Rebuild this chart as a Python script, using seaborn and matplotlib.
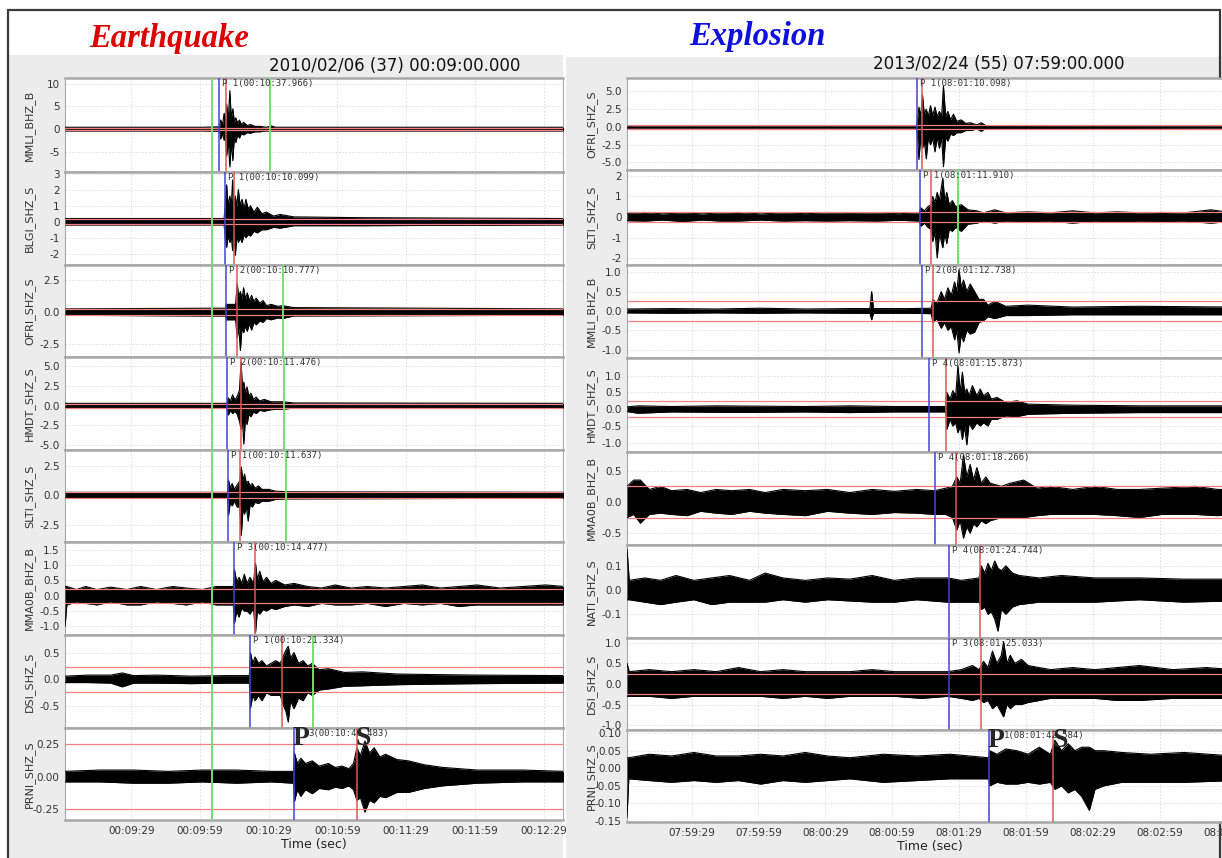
import numpy as np
import pandas as pd
import matplotlib.pyplot as plt
import seaborn as sns
from matplotlib.patches import Rectangle
from matplotlib.lines import Line2D

W, H = 1222, 858

# ---------------- values ----------------
# Earthquake panel (time in s after 00:09:00)
eq_stations = ['MMLI_BHZ_B', 'BLGI_SHZ_S', 'OFRI_SHZ_S', 'HMDT_SHZ_S',
               'SLTI_SHZ_S', 'MMA0B_BHZ_B', 'DSI_SHZ_S', 'PRNI_SHZ_S']
eq_xticks = [29, 59, 89, 119, 149, 179, 209]
eq_xtick_labels = ['00:09:29', '00:09:59', '00:10:29', '00:10:59',
                   '00:11:29', '00:11:59', '00:12:29']
eq_ylims = [(-9.5, 11.3), (-2.7, 3.1), (-3.5, 3.67), (-5.64, 6.2),
            (-3.96, 3.84), (-1.28, 1.75), (-0.91, 0.83), (-0.33, 0.37)]
eq_yticks = [[10, 5, 0, -5], [3, 2, 1, 0, -1, -2], [2.5, 0, -2.5],
             [5, 2.5, 0, -2.5, -5], [2.5, 0, -2.5],
             [1.5, 1, 0.5, 0, -0.5, -1], [0.5, 0, -0.5], [0.25, 0, -0.25]]
eq_ytick_labels = [['10', '5', '0', '-5'], ['3', '2', '1', '0', '-1', '-2'],
                   ['2.5', '0.0', '-2.5'], ['5.0', '2.5', '0.0', '-2.5', '-5.0'],
                   ['2.5', '0.0', '-2.5'],
                   ['1.5', '1.0', '0.5', '0.0', '-0.5', '-1.0'],
                   ['0.5', '0.0', '-0.5'], ['0.25', '0.00', '-0.25']]
eq_blue = [67.4, 69.9, 70.3, 70.9, 71.0, 73.8, 80.8, 100.0]
eq_red = [70.2, 73.8, 75.0, 76.7, 76.4, 83.1, 94.6, 127.5]
eq_green_first = 64.0
eq_green = [89.5, None, 95.0, 95.8, 96.5, None, 108.2, None]
eq_thresh = [0.25, 0.15, 0.25, 0.25, 0.25, 0.23, 0.24, 0.25]
eq_pick_labels = ['P 1(00:10:37.966)', 'P 1(00:10:10.099)', 'P 2(00:10:10.777)',
                  'P 2(00:10:11.476)', 'P 1(00:10:11.637)', 'P 3(00:10:14.477)',
                  'P 1(00:10:21.334)', '3(00:10:40.483)']

# amplitude envelopes (time, upper, lower)
eq_env_mmli = [(0, .4, -.4), (30, .4, -.4), (60, .4, -.4), (67.5, .5, -.5),
               (68, 2.0, -2.2), (68.8, 1.0, -1.0), (69.5, 3.5, -2.5), (70.1, 1.5, -1.5),
               (70.6, 5.5, -6), (71.3, 2.0, -2.5), (72, 8.5, -8.4), (72.6, 2.5, -3.0),
               (73.3, 4.5, -7), (74, 1.5, -1.5), (74.6, 2.5, -3.0), (75.4, 1.3, -1.2),
               (76.2, 2, -2), (77, 1.0, -1.0), (78, 1.5, -1.3), (79.5, .8, -.8),
               (81, 1.0, -.9), (83, .6, -.6), (85, .6, -.6), (88, .4, -.4),
               (90, .7, -.4), (92, .4, -.4), (218, .4, -.4)]
eq_env_blgi = [(0, .2, -.2), (69.5, .2, -.2), (70, 1.2, -1.0), (70.6, 2.3, -1.6),
               (71.2, 1.0, -.9), (72, 1.6, -1.3), (72.6, .9, -.9), (73.2, 2.6, -1.8),
               (73.8, 1.0, -1.0), (74.4, 1.6, -2.1), (75, .9, -.9), (75.7, 2.0, -1.3),
               (76.5, 1.0, -1.0), (77.3, 1.4, -1.3), (78.2, .8, -.8), (79, 1.4, -1.0),
               (80, .8, -.8), (81, 1.0, -.9), (82.5, .6, -.6), (84, .9, -.7),
               (86, .5, -.5), (88, .6, -.5), (91, .35, -.35), (94, .45, -.4),
               (100, .3, -.25), (130, .25, -.25), (218, .2, -.2)]
eq_env_ofri = [(0, .25, -.25), (60, .3, -.3), (70, .3, -.3), (70.5, .6, -.6),
               (74.5, .6, -.6), (75.2, 2.2, -2.0), (75.9, 1.2, -1.2), (76.6, 1.6, -3.0),
               (77.3, 1.0, -1.2), (78, 1.9, -1.6), (78.8, 1.0, -1.1), (79.6, 1.5, -1.5),
               (80.5, .9, -.9), (81.5, 1.3, -1.4), (82.5, .8, -.8), (83.5, 1.1, -1.0),
               (85, .7, -.7), (86.5, .9, -.8), (88, .5, -.5), (90, .6, -.6),
               (93, .45, -.45), (95, .5, -.5), (100, .35, -.3), (218, .25, -.25)]
eq_env_hmdt = [(0, .3, -.3), (70.8, .3, -.3), (71.3, 1.0, -1.2), (72.3, .6, -.6),
               (73.2, 1.4, -1.0), (74.2, .7, -.7), (75.2, 1.2, -1.1), (76.2, 2, -2),
               (76.9, 5.6, -3), (77.5, 2.2, -2.0), (78.1, 3, -4.9), (78.8, 1.6, -1.6),
               (79.5, 2.4, -2.4), (80.3, 1.2, -1.1), (81.2, 1.6, -1.4), (82.3, .8, -.8),
               (83.5, 1.1, -1.0), (85, .6, -.6), (87, .8, -.7), (90, .5, -.5),
               (95, .5, -.45), (100, .35, -.3), (218, .3, -.3)]
eq_env_slti = [(0, .25, -.25), (71, .25, -.25), (71.4, 1.3, -1.7), (72.2, .6, -.6),
               (73, 1.0, -.9), (74, .5, -.5), (75.2, .9, -1.0), (76.3, 1.2, -1.0),
               (77, 2.4, -3.4), (77.7, 1.2, -1.2), (78.4, 1.8, -1.6), (79.2, 1.0, -1.0),
               (80, 1.2, -2.2), (80.8, .8, -.8), (81.8, 1.0, -1.0), (83, .6, -.6),
               (84.5, .8, -.7), (86, .5, -.5), (89, .5, -.5), (92, .35, -.35),
               (97, .3, -.3), (218, .25, -.25)]
eq_env_mma0b = [(0, .3, -1.0), (0.8, .3, -.3), (5, .2, -.2), (9, .3, -.25),
                (14, .2, -.3), (20, .28, -.2), (27, .2, -.3), (33, .3, -.3),
                (40, .2, -.2), (47, .3, -.25), (53, .25, -.3), (60, .2, -.2),
                (66, .3, -.3), (73.5, .3, -.3), (74, .85, -.9), (75, .45, -.5),
                (76, .6, -.7), (77.2, .4, -.4), (78.3, .7, -.5), (79.5, .4, -.5),
                (80.8, .6, -.6), (82.3, .4, -.4), (83.2, 1.06, -1.2), (84, .5, -.5),
                (85, .8, -.6), (86.5, .45, -.45), (88, .6, -.5), (90, .4, -.4),
                (92, .5, -.45), (96, .35, -.35), (100, .4, -.3), (106, .3, -.35),
                (112, .25, -.25), (118, .35, -.3), (125, .25, -.3), (132, .3, -.25),
                (140, .25, -.35), (148, .3, -.25), (156, .35, -.3), (164, .25, -.25),
                (172, .3, -.35), (180, .35, -.3), (190, .25, -.3), (200, .3, -.3),
                (210, .35, -.3), (218, .3, -.3)]
eq_env_dsi = [(0, .06, -.06), (10, .08, -.06), (20, .08, -.07), (25, .12, -.14),
              (30, .07, -.07), (40, .08, -.07), (55, .06, -.08), (70, .07, -.07),
              (80.5, .07, -.07), (81, .5, -.54), (82, .3, -.3), (83, .42, -.4),
              (84.5, .3, -.3), (86, .35, -.4), (88, .25, -.25), (90, .3, -.3),
              (92, .35, -.3), (94, .3, -.3), (95.5, .45, -.5), (96.5, .55, -.6),
              (97.5, .62, -.8), (98.5, .4, -.4), (100, .5, -.55), (102, .3, -.35),
              (104, .35, -.4), (106, .25, -.25), (108, .3, -.3), (111, .18, -.2),
              (115, .2, -.18), (122, .13, -.13), (130, .14, -.12), (145, .1, -.1),
              (160, .09, -.09), (180, .08, -.08), (218, .07, -.07)]
eq_env_prni = [(0, .04, -.04), (15, .05, -.04), (30, .05, -.05), (45, .04, -.05),
               (60, .05, -.04), (75, .05, -.05), (90, .04, -.04), (99.8, .04, -.05),
               (100.2, .18, -.19), (101.5, .1, -.1), (103, .14, -.15), (105, .1, -.1),
               (108, .12, -.13), (111, .08, -.09), (115, .1, -.1), (118, .07, -.08),
               (121, .08, -.09), (124, .06, -.07), (126, .1, -.1), (127.5, .22, -.18),
               (129, .16, -.16), (131, .27, -.27), (133, .18, -.18), (135, .22, -.2),
               (137.5, .15, -.15), (140, .17, -.16), (145, .13, -.12), (150, .12, -.12),
               (157, .09, -.09), (165, .07, -.07), (180, .05, -.05), (200, .05, -.04),
               (218, .04, -.04)]

# Explosion panel (time in s after 07:59:00)
ex_stations = ['OFRI_SHZ_S', 'SLTI_SHZ_S', 'MMLI_BHZ_B', 'HMDT_SHZ_S',
               'MMA0B_BHZ_B', 'NATI_SHZ_S', 'DSI_SHZ_S', 'PRNI_SHZ_S']
ex_xticks = [29, 59, 89, 119, 149, 179, 209, 239, 269]
ex_xtick_labels = ['07:59:29', '07:59:59', '08:00:29', '08:00:59', '08:01:29',
                   '08:01:59', '08:02:29', '08:02:59', '08:03:29']
ex_ylims = [(-6.06, 6.9), (-2.34, 2.29), (-1.22, 1.19), (-1.27, 1.52),
            (-0.69, 0.8), (-0.198, 0.186), (-1.12, 1.12), (-0.153, 0.109)]
ex_yticks = [[5, 2.5, 0, -2.5, -5], [2, 1, 0, -1, -2], [1, 0.5, 0, -0.5, -1],
             [1, 0.5, 0, -0.5, -1], [0.5, 0, -0.5], [0.1, 0, -0.1],
             [1, 0.5, 0, -0.5, -1], [0.1, 0.05, 0, -0.05, -0.1, -0.15]]
ex_ytick_labels = [['5.0', '2.5', '0.0', '-2.5', '-5.0'], ['2', '1', '0', '-1', '-2'],
                   ['1.0', '0.5', '0.0', '-0.5', '-1.0'],
                   ['1.0', '0.5', '0.0', '-0.5', '-1.0'], ['0.5', '0.0', '-0.5'],
                   ['0.1', '0.0', '-0.1'], ['1.0', '0.5', '0.0', '-0.5', '-1.0'],
                   ['0.10', '0.05', '0.00', '-0.05', '-0.10', '-0.15']]
ex_blue = [130.0, 131.5, 132.5, 135.7, 138.2, 144.5, 144.7, 162.5]
ex_red = [132.5, 136.3, 137.2, 143.2, 147.5, 158.4, 158.7, 191.3]
ex_green = [None, 148.7, None, None, None, None, None, None]
ex_thresh = [0.25, 0.25, 0.26, 0.24, 0.25, 0.25, 0.24, 0.25]
ex_pick_labels = ['P 1(08:01:10.098)', 'P 1(08:01:11.910)', 'P 2(08:01:12.738)',
                  'P 4(08:01:15.873)', 'P 4(08:01:18.266)', 'P 4(08:01:24.744)',
                  'P 3(08:01:25.033)', '1(08:01:42.584)']

ex_env_ofri = [(0, .15, -.15), (129.8, .15, -.15), (130.2, .6, -.6), (131, 2.8, -4.6),
               (131.8, 1.5, -1.5), (132.6, 4.5, -3.0), (133.4, 1.8, -2.0),
               (134.3, 2.5, -4.5), (135.2, 1.5, -1.5), (136.2, 3.0, -2.5),
               (137.2, 1.6, -1.6), (138.2, 2.8, -3.5), (139.2, 1.5, -1.5),
               (140.2, 2.2, -3.0), (141.2, 1.5, -1.5), (142, 5.8, -5.6), (143, 1.5, -1.5),
               (144, 2.2, -2.0), (145.2, 1.0, -1.0), (146.5, 1.8, -1.2), (148, .8, -.8),
               (150, 1.0, -.8), (152, .5, -.5), (154, .6, -.5), (157, .3, -.3),
               (159, .6, -.6), (161, .2, -.2), (272, .15, -.15)]
ex_env_slti = [(0, .18, -.18), (8, .22, -.2), (16, .15, -.15), (25, .2, -.22),
               (34, .15, -.15), (42, .2, -.2), (50, .22, -.2), (60, .15, -.15),
               (70, .2, -.2), (80, .16, -.18), (90, .2, -.2), (100, .18, -.18),
               (112, .2, -.2), (122, .16, -.16), (131.3, .2, -.2), (131.8, .45, -.45),
               (133.5, .3, -.3), (135, .5, -.5), (136.4, .6, -.6), (137.2, 1.0, -1.2),
               (138.2, .7, -.7), (139.2, 1.2, -2.0), (140.2, .8, -.8), (141.7, 1.9, -1.5),
               (142.6, .8, -.8), (143.5, 1.2, -1.3), (144.6, .6, -.6), (146, .8, -.7),
               (147.5, .5, -.5), (150, .6, -.7), (153, .35, -.35), (157, .3, -.3),
               (160, .2, -.2), (165, .35, -.3), (170, .2, -.2), (180, .25, -.22),
               (190, .2, -.2), (200, .3, -.3), (210, .2, -.2), (220, .25, -.25),
               (230, .2, -.2), (240, .22, -.22), (250, .2, -.2), (262, .35, -.3),
               (272, .2, -.2)]
ex_env_mmli = [(0, .05, -.05), (20, .06, -.06), (40, .05, -.05), (60, .07, -.06),
               (80, .05, -.05), (100, .06, -.06), (109, .06, -.06), (109.8, .5, -.23),
               (110.6, .06, -.06), (125, .06, -.06), (136.5, .07, -.07),
               (137.3, .3, -.3), (139, .2, -.2), (141, .5, -.45), (142.5, .3, -.3),
               (144, .6, -.5), (145.5, .4, -.4), (147, .75, -.75), (148, .5, -.5),
               (149, 1.07, -1.09), (150, .6, -.6), (151, .8, -.8), (152.5, .5, -.5),
               (154, .7, -.6), (156, .5, -.55), (158, .3, -.3), (160, .3, -.25),
               (162, .15, -.15), (165, .25, -.2), (170, .12, -.12), (180, .15, -.12),
               (200, .1, -.1), (230, .12, -.1), (272, .1, -.1)]
ex_env_hmdt = [(0, .07, -.07), (5, .1, -.12), (20, .08, -.08), (40, .1, -.09),
               (60, .09, -.09), (80, .08, -.08), (100, .1, -.1), (120, .08, -.08),
               (143, .08, -.08), (143.5, .5, -.6), (145, .3, -.3), (146.2, .55, -.5),
               (147.5, .4, -.4), (148.5, 1.3, -.7), (149.5, .5, -.5), (150.5, 1.1, -.9),
               (151.5, .5, -.5), (152.5, .6, -1.06), (153.5, .4, -.4), (155, .7, -.6),
               (157, .4, -.4), (158.5, .6, -.5), (160, .4, -.4), (162, .5, -.5),
               (163.5, .3, -.3), (166, .35, -.3), (170, .2, -.2), (175, .25, -.22),
               (180, .15, -.15), (200, .12, -.12), (230, .1, -.1), (272, .1, -.1)]
ex_env_mma0b = [(0, .25, -.25), (3, .35, -.2), (6, .35, -.34), (10, .2, -.2),
                (15, .25, -.18), (20, .18, -.2), (27, .2, -.22), (33, .15, -.15),
                (40, .2, -.18), (47, .18, -.2), (55, .2, -.15), (62, .15, -.18),
                (70, .2, -.2), (80, .18, -.22), (90, .2, -.15), (100, .15, -.18),
                (110, .2, -.2), (120, .17, -.17), (130, .2, -.18), (138, .18, -.2),
                (143, .22, -.2), (146, .25, -.25), (148, .4, -.45), (149.5, .3, -.3),
                (151, .75, -.58), (152.5, .4, -.4), (154, .6, -.5), (155.5, .35, -.35),
                (157, .55, -.4), (159, .3, -.3), (161, .4, -.35), (163, .3, -.3),
                (168, .25, -.25), (172, .3, -.25), (178, .35, -.25), (184, .22, -.22),
                (190, .25, -.2), (200, .2, -.2), (210, .25, -.2), (220, .2, -.22),
                (230, .2, -.25), (240, .22, -.2), (255, .25, -.2), (265, .2, -.22),
                (272, .2, -.2)]
ex_env_nati = [(0, .17, -.04), (1, .04, -.04), (8, .05, -.05), (15, .04, -.06),
               (22, .06, -.05), (30, .04, -.04), (38, .05, -.06), (46, .06, -.05),
               (55, .04, -.05), (62, .07, -.05), (70, .05, -.04), (80, .04, -.05),
               (90, .05, -.04), (100, .045, -.045), (110, .06, -.05), (120, .04, -.05),
               (130, .05, -.04), (144, .05, -.05), (150, .04, -.05), (158, .05, -.05),
               (159, .1, -.08), (160.5, .07, -.07), (162, .11, -.1), (163.5, .08, -.09),
               (165, .12, -.12), (166.5, .09, -.17), (168, .08, -.08), (170, .1, -.1),
               (173, .07, -.07), (176, .06, -.06), (185, .05, -.05), (195, .06, -.05),
               (210, .05, -.05), (230, .05, -.04), (250, .045, -.05), (272, .045, -.045)]
ex_env_dsi = [(0, .5, -.3), (1, .3, -.3), (10, .35, -.3), (20, .3, -.35),
              (30, .35, -.3), (40, .3, -.3), (50, .4, -.3), (60, .3, -.3),
              (70, .35, -.35), (80, .3, -.3), (90, .3, -.35), (100, .3, -.3),
              (110, .35, -.3), (120, .3, -.3), (132, .3, -.35), (144, .3, -.3),
              (150, .35, -.35), (155, .45, -.4), (158, .35, -.35), (160, .55, -.45),
              (162, .4, -.4), (164, .8, -.6), (166, .5, -.5), (168, .7, -.7),
              (169, 1.03, -.8), (170.5, .5, -.5), (172, .7, -.6), (174, .5, -.5),
              (177, .6, -.5), (180, .45, -.45), (185, .4, -.4), (190, .35, -.35),
              (200, .4, -.35), (210, .35, -.35), (220, .4, -.4), (230, .45, -.4),
              (245, .35, -.35), (260, .4, -.35), (272, .35, -.35)]
ex_env_prni = [(0, .03, -.14), (0.8, .03, -.03), (10, .04, -.035), (20, .035, -.04),
               (30, .045, -.035), (40, .035, -.04), (50, .035, -.035), (60, .04, -.045),
               (70, .035, -.035), (80, .045, -.04), (90, .035, -.035), (100, .03, -.03),
               (115, .04, -.04), (130, .035, -.035), (145, .04, -.03), (162.2, .03, -.03),
               (162.8, .05, -.05), (166, .04, -.04), (170, .055, -.045), (175, .05, -.045),
               (180, .04, -.04), (185, .06, -.045), (190, .04, -.04), (192, .08, -.06),
               (195, .05, -.05), (198, .07, -.07), (201, .05, -.06), (204, .06, -.08),
               (207.5, .06, -.12), (210, .05, -.06), (214, .05, -.05), (222, .045, -.04),
               (235, .04, -.04), (250, .045, -.04), (272, .035, -.035)]

eq_envs = [eq_env_mmli, eq_env_blgi, eq_env_ofri, eq_env_hmdt,
           eq_env_slti, eq_env_mma0b, eq_env_dsi, eq_env_prni]
ex_envs = [ex_env_ofri, ex_env_slti, ex_env_mmli, ex_env_hmdt,
           ex_env_mma0b, ex_env_nati, ex_env_dsi, ex_env_prni]

# ---------------- layout ----------------
sns.set_style('white')
plt.rcParams['font.family'] = ['DejaVu Sans']

fig = plt.figure(figsize=(W / 100, H / 100), dpi=100)
fig.patch.set_facecolor('white')


def fx(x):
    return x / W


def fy(y):
    return 1 - y / H


# panel backgrounds and outer frame (behind the axes)
fig.patches.append(Rectangle((fx(9), 0), fx(563 - 9), fy(55), transform=fig.transFigure,
                             facecolor='#ececec', edgecolor='none', zorder=-10))
fig.patches.append(Rectangle((fx(566), 0), fx(W - 566), fy(57), transform=fig.transFigure,
                             facecolor='#ececec', edgecolor='none', zorder=-10))
for xs, ys in [([fx(8), fx(1220)], [fy(10), fy(10)]),
               ([fx(8), fx(8)], [0, fy(10)]),
               ([fx(1220), fx(1220)], [0, fy(10)])]:
    fig.lines.append(Line2D(xs, ys, transform=fig.transFigure, color='#3a3a3a',
                            lw=1.6, zorder=-5))

fig.text(fx(89), fy(39), 'Earthquake', color='#dd0000', fontsize=23.5,
         fontstyle='italic', fontweight='bold', family='Liberation Serif', va='center')
fig.text(fx(689), fy(37), 'Explosion', color='#1010dd', fontsize=23.5,
         fontstyle='italic', fontweight='bold', family='Liberation Serif', va='center')
fig.text(fx(395), fy(66), '2010/02/06 (37) 00:09:00.000', fontsize=12,
         ha='center', va='center', color='#111111')
fig.text(fx(999), fy(64), '2013/02/24 (55) 07:59:00.000', fontsize=12,
         ha='center', va='center', color='#111111')


def draw_panel(x0, x1, tops, bottom, xmax, stations, envs, ylims, yticks, ylabels,
               blue, red, green, thresh, labels, xticks, xticklabels, green_first=None):
    edges = tops + [bottom]
    for i in range(8):
        ax = fig.add_axes([fx(x0), fy(edges[i + 1]), fx(x1 - x0),
                           (edges[i + 1] - edges[i]) / H])
        ax.set_facecolor('white')
        d = pd.DataFrame(envs[i], columns=['t', 'hi', 'lo'])
        ax.fill_between(d['t'], d['lo'], d['hi'], color='black', lw=0, zorder=3)
        sns.lineplot(data=d, x='t', y='hi', ax=ax, color='black', lw=0.8,
                     estimator=None, zorder=3)
        sns.lineplot(data=d, x='t', y='lo', ax=ax, color='black', lw=0.8,
                     estimator=None, zorder=3)
        for v in (thresh[i], -thresh[i]):
            ax.axhline(v, color='#f08080', lw=0.9, zorder=4)
        if green_first is not None:
            ax.axvline(green_first, color='#77dd77', lw=1.4, zorder=5)
        if green[i] is not None:
            ax.axvline(green[i], color='#77dd77', lw=1.4, zorder=5)
        ax.axvline(blue[i], color='#4444dd', lw=1.1, zorder=5)
        ax.axvline(red[i], color='#e05555', lw=1.1, zorder=5)
        ax.set_xlim(0, xmax)
        ax.set_ylim(*ylims[i])
        ax.set_yticks(yticks[i])
        ax.set_yticklabels(ylabels[i])
        ax.set_xticks(xticks)
        ax.grid(True, color='#dcdcdc', ls=(0, (2, 2)), lw=0.6, zorder=0)
        ax.set_axisbelow(True)
        ax.tick_params(axis='both', labelsize=7.5, colors='#333333', length=2,
                       pad=2, direction='out')
        ax.set_ylabel(stations[i], fontsize=8, color='#333333')
        ax.yaxis.set_label_coords(-30 / (x1 - x0), 0.5)
        for s in ax.spines.values():
            s.set_color('#a8a8a8')
            s.set_linewidth(0.8)
        ax.spines['top'].set_linewidth(1.8)
        ax.spines['bottom'].set_linewidth(1.8)
        if i < 7:
            ax.set_xticklabels([])
            ax.set_xlabel('')
            ax.text(blue[i] + 1.3, 0.985, labels[i], transform=ax.get_xaxis_transform(),
                    fontsize=6.5, family='DejaVu Sans Mono', color='#333333',
                    va='top', zorder=6)
        else:
            ax.set_xticklabels(xticklabels)
            ax.set_xlabel('Time (sec)', fontsize=9, color='#222222', labelpad=2)
            ax.text(blue[i] + 6.5, 0.985, labels[i], transform=ax.get_xaxis_transform(),
                    fontsize=6.5, family='DejaVu Sans Mono', color='#333333',
                    va='top', zorder=6)
            ax.text(blue[i] - 0.5, 1.02, 'P', transform=ax.get_xaxis_transform(),
                    fontsize=20, fontweight='bold', family='Liberation Serif',
                    va='top', zorder=7)
            ax.text(red[i] - 0.5, 1.02, 'S', transform=ax.get_xaxis_transform(),
                    fontsize=20, fontweight='bold', family='Liberation Serif',
                    va='top', zorder=7)


draw_panel(65, 563, [78, 172, 265, 357, 450, 542, 635, 728], 820, 217.5,
           eq_stations, eq_envs, eq_ylims, eq_yticks, eq_ytick_labels,
           eq_blue, eq_red, eq_green, eq_thresh, eq_pick_labels,
           eq_xticks, eq_xtick_labels, green_first=eq_green_first)
draw_panel(627, 1232, [78, 170, 265, 358, 452, 545, 638, 730], 822, 271.5,
           ex_stations, ex_envs, ex_ylims, ex_yticks, ex_ytick_labels,
           ex_blue, ex_red, ex_green, ex_thresh, ex_pick_labels,
           ex_xticks, ex_xtick_labels)

fig.savefig('out.png', dpi=100)
